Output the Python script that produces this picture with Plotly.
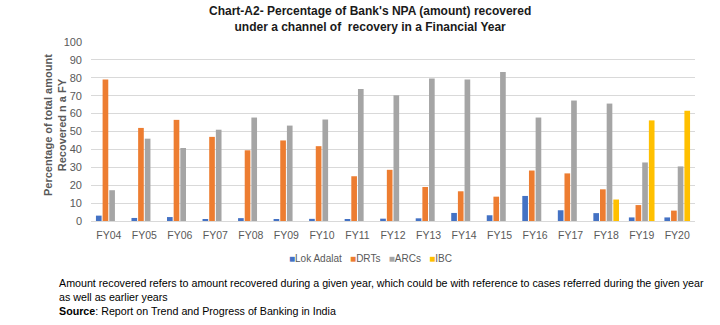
import plotly.graph_objects as go

categories = ["FY04", "FY05", "FY06", "FY07", "FY08", "FY09", "FY10", "FY11", "FY12",
              "FY13", "FY14", "FY15", "FY16", "FY17", "FY18", "FY19", "FY20"]
lok_adalat = [3.0, 1.7, 2.2, 1.0, 1.6, 1.0, 1.2, 0.9, 1.3, 1.5, 4.5, 3.2, 14.0, 6.0, 4.4, 2.0, 2.0]
drts = [79.0, 52.0, 56.5, 47.0, 39.5, 45.0, 41.8, 25.0, 28.6, 19.0, 16.6, 13.6, 28.2, 26.6, 17.7, 8.9, 5.8]
arcs = [17.2, 46.0, 40.8, 51.0, 57.8, 53.3, 56.7, 73.8, 70.2, 79.6, 79.0, 83.3, 57.8, 67.3, 65.6, 32.7, 30.5]
ibc = [None] * 14 + [12.0, 56.2, 61.6]

series_names = ["Lok Adalat", "DRTs", "ARCs", "IBC"]
series_values = [lok_adalat, drts, arcs, ibc]
colors = ["#4472C4", "#ED7D31", "#A5A5A5", "#FFC000"]

fig = go.Figure()
for name, vals, col in zip(series_names, series_values, colors):
    fig.add_trace(go.Bar(x=categories, y=vals, name=name, marker_color=col,
                         marker_line_width=0, showlegend=False))

W, H = 720, 325
L, R, T, B = 91, 25, 42, 104
pw, ph = W - L - R, H - T - B

def px_x(x):
    return (x - L) / pw

def px_y(y):
    return (H - B - y) / ph

fig.update_layout(
    width=W, height=H,
    margin=dict(l=L, r=R, t=T, b=B),
    paper_bgcolor="white", plot_bgcolor="white",
    barmode="group", bargap=0.25, bargroupgap=0.15,
    font=dict(family="Liberation Sans, Arial, sans-serif", color="#595959", size=11),
    showlegend=False,
    xaxis=dict(showgrid=False, showline=True, linecolor="#D9D9D9", linewidth=1,
               ticks="", tickfont=dict(size=10.5, color="#595959"), ticklabelstandoff=4),
    yaxis=dict(range=[0, 100], dtick=10, showgrid=True, gridcolor="#D9D9D9", gridwidth=1,
               zeroline=False, showline=False, ticks="", tickfont=dict(size=11, color="#595959"),
               ticklabelstandoff=8),
)

# legend built from the series names and colours
legend_text = "&nbsp;&nbsp;&nbsp;".join(
    f'<span style="color:{c}">■</span>{n}' for n, c in zip(series_names, colors)
)
fig.add_annotation(xref="paper", yref="paper", x=px_x(370), y=px_y(258), xanchor="center",
                   yanchor="middle", showarrow=False, text=legend_text,
                   font=dict(size=10, color="#595959"))

fig.add_annotation(xref="paper", yref="paper", x=px_x(370), y=px_y(19), xanchor="center",
                   yanchor="middle", showarrow=False, align="center",
                   text="<b>Chart-A2- Percentage of Bank's NPA (amount) recovered<br>under a channel of&nbsp; recovery in a Financial Year</b>",
                   font=dict(size=12, color="#1a1a1a", family="Liberation Sans, Arial, sans-serif"))

fig.add_annotation(xref="paper", yref="paper", x=px_x(55), y=px_y(125), xanchor="center",
                   yanchor="middle", showarrow=False, textangle=-90, align="center",
                   text="<b>Percentage of total amount<br>Recovered n a FY</b>",
                   font=dict(size=11, color="#595959"))

fig.add_annotation(xref="paper", yref="paper", x=px_x(57), y=px_y(290), xanchor="left",
                   yanchor="middle", showarrow=False, align="left",
                   text="Amount recovered refers to amount recovered during a given year, which could be with reference to cases referred during the given year<br>as well as earlier years",
                   font=dict(size=10.7, color="#000000"))

fig.add_annotation(xref="paper", yref="paper", x=px_x(57), y=px_y(311), xanchor="left",
                   yanchor="middle", showarrow=False, align="left",
                   text="<b>Source</b>: Report on Trend and Progress of Banking in India",
                   font=dict(size=10.7, color="#000000"))

fig.write_html("out.html")
